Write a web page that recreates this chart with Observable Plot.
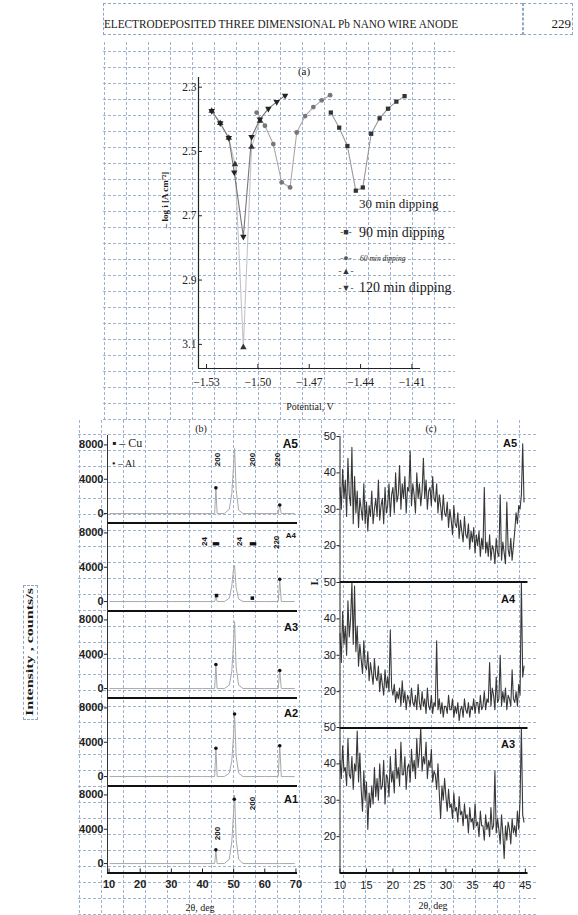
<!DOCTYPE html>
<html><head><meta charset="utf-8">
<script src="https://cdn.jsdelivr.net/npm/d3@7"></script>
<script src="https://cdn.jsdelivr.net/npm/@observablehq/plot@0.6"></script>
<style>
html,body{margin:0;padding:0;background:#fff;}
#page{position:relative;width:578px;height:915px;overflow:hidden;background:#fff;}
.box{position:absolute;border:1px dashed #8ea6c8;box-sizing:border-box;}
</style></head><body><div id="page"></div>
<script>
// ---------- Panel (a): Tafel-like curves, -log i vs potential ----------
const aXTicks = [-1.53, -1.50, -1.47, -1.44, -1.41];
const aYTicks = [2.3, 2.5, 2.7, 2.9, 3.1];
const pot30 = [-1.527, -1.522, -1.517, -1.5134, -1.5085, -1.5037, -1.4988];
const logi30 = [2.374, 2.412, 2.458, 2.54, 3.109, 2.486, 2.405];
const pot120 = [-1.527, -1.522, -1.517, -1.5138, -1.5085, -1.5037, -1.4988, -1.4939, -1.489, -1.4841];
const logi120 = [2.374, 2.412, 2.458, 2.565, 2.765, 2.455, 2.40, 2.367, 2.346, 2.326];
const pot60 = [-1.5007, -1.4959, -1.491, -1.4861, -1.4812, -1.4773, -1.4724, -1.4676, -1.4627, -1.4578];
const logi60 = [2.379, 2.42, 2.477, 2.596, 2.612, 2.441, 2.39, 2.362, 2.341, 2.325];
const pot90 = [-1.4574, -1.4525, -1.4477, -1.4428, -1.4387, -1.4338, -1.4289, -1.424, -1.4191, -1.4143];
const logi90 = [2.379, 2.426, 2.483, 2.622, 2.612, 2.445, 2.397, 2.367, 2.345, 2.328];

// ---------- Panel (b): XRD patterns A5..A1 ----------
const bSamples = ["A5", "A4", "A3", "A2", "A1"];
const bXTicks = [10, 20, 30, 40, 50, 60, 70];
const bYTicks = [0, 4000, 8000];
const xrdTheta = [10.3, 20, 30, 40, 43.9, 44.3, 44.7, 47, 48.6, 49.4, 49.9, 50.3, 50.8, 51.6, 53, 60, 64.3, 64.8, 65.3, 69.5];
const xrdA5 = [0, 0, 0, 0, 0, 3000, 0, 0, 500, 2300, 5200, 7600, 2800, 400, 0, 0, 0, 1000, 0, 0];
const xrdA4 = [0, 0, 0, 0, 0, 700, 0, 0, 400, 1800, 3600, 4200, 1600, 300, 0, 0, 0, 2500, 0, 0];
const xrdA3 = [0, 0, 0, 0, 0, 2800, 0, 0, 400, 2000, 5000, 7800, 2500, 400, 0, 0, 0, 2100, 0, 0];
const xrdA2 = [0, 0, 0, 0, 0, 3300, 0, 0, 400, 1800, 4500, 7200, 2400, 400, 0, 0, 0, 3600, 0, 0];
const xrdA1 = [0, 0, 0, 0, 0, 1500, 0, 0, 500, 2500, 5500, 8000, 2800, 500, 0, 0, 0, 0, 0, 0];
const dotThetaA5 = [44.3, 64.8], dotCountsA5 = [3000, 1000];
const dotThetaA4 = [64.8], dotCountsA4 = [2600];
const sqThetaA4 = [44.5, 56.0], sqCountsA4 = [700, 400];
const dotThetaA3 = [44.3, 64.8], dotCountsA3 = [2800, 2100];
const dotThetaA2 = [44.3, 64.8, 50.3], dotCountsA2 = [3300, 3600, 7300];
const dotThetaA1 = [44.3, 50.2], dotCountsA1 = [1600, 7500];
const hklA5 = ["200", "200", "220"], hklThetaA5 = [44.8, 56.0, 64.0], hklCountsA5 = [6300, 6300, 6300];
const hklA4 = ["24", "▮", "24", "▮", "220"], hklThetaA4 = [40.5, 44.2, 51.7, 56.0, 63.8], hklCountsA4 = [7000, 6700, 7000, 6700, 6900];
const hklA1 = ["200", "200"], hklThetaA1 = [56.0, 44.8], hklCountsA1 = [7000, 3500];

// ---------- Panel (c): low-angle XRD, A5, A4, A3 ----------
const cSamples = ["A5", "A4", "A3"];
const cXTicks = [10, 15, 20, 25, 30, 35, 40, 45];
const cYTicks = [20, 30, 40, 50];
const cTheta = d3.range(10, 45, 0.25);
const cA5 = [36,30,41,33, 38,28,44,34, 31,47,26,39, 29,35,25,33, 30,27,37,26, 32,24,31,28, 35,26,30,33, 28,38,27,31,
  33,26,36,29, 31,37,28,34, 36,29,40,32, 34,42,30,37, 33,39,29,36, 35,46,31,37, 34,29,40,33, 37,31,35,44, 33,38,30,35,
  36,31,39,33, 32,37,29,34, 31,27,34,29, 28,32,25,30, 27,23,31,26, 25,29,22,27, 24,21,28,23, 22,26,19,24, 21,25,18,23,
  20,24,17,22, 19,36,18,21, 17,23,16,20, 19,15,22,18, 17,34,16,21, 18,15,32,19, 17,22,16,20, 24,29,26,31, 30,34,48,32];
const cA4 = [36,28,42,33, 38,30,45,35, 40,50,33,49, 31,38,27,33, 29,25,34,27, 26,31,23,28, 25,22,29,24, 23,27,20,25,
  22,19,26,21, 24,20,37,21, 19,22,17,20, 18,21,16,23, 17,20,15,19, 18,16,21,17, 16,19,15,22, 17,15,20,16, 18,14,21,16,
  15,19,14,17, 16,34,15,18, 14,17,13,16, 16,14,19,15, 15,18,13,16, 14,17,12,15, 16,13,18,15, 14,17,13,16, 15,18,14,17,
  17,14,19,15, 16,20,15,18, 17,28,16,21, 19,15,24,17, 18,30,16,20, 17,21,15,19, 18,16,26,18, 17,20,16,22, 19,50,24,27];
const cA3 = [41,36,45,38, 39,34,47,37, 36,42,33,40, 38,49,35,43, 33,27,38,30, 35,22,32,28, 34,29,39,31, 36,30,40,33,
  34,41,29,37, 36,31,42,35, 38,32,44,36, 39,34,46,37, 37,42,33,39, 40,35,44,38, 41,36,47,39, 43,50,38,42, 40,46,36,41,
  39,44,35,38, 37,33,40,32, 25,34,30,36, 31,27,33,28, 29,25,32,27, 28,24,31,26, 27,23,29,25, 26,21,28,24, 25,22,29,23,
  24,20,27,23, 23,19,26,22, 24,20,28,22, 23,38,21,25, 22,18,26,21, 14,23,19,24, 22,18,25,21, 23,20,27,22, 30,50,26,24];

// ---------- helpers ----------
const page = document.getElementById("page");
function put(node, left, top) {
  node.style.position = "absolute"; node.style.left = left + "px"; node.style.top = top + "px";
  page.appendChild(node); return node;
}
const gridColor = "#8ea6c8";
function gridLayer(w, h, stepX, stepY) {
  return Plot.plot({
    width: w, height: h, margin: 0,
    x: {domain: [0, w], axis: null}, y: {domain: [0, h], axis: null},
    style: {background: "transparent"},
    marks: [
      Plot.gridX(d3.range(1, w, stepX), {stroke: gridColor, strokeOpacity: 0.85, strokeDasharray: "3,2"}),
      Plot.gridY(d3.range(1, h, stepY), {stroke: gridColor, strokeOpacity: 0.85, strokeDasharray: "3,2"})
    ]
  });
}
put(gridLayer(352, 378, 22, 16), 103, 42);
put(gridLayer(460, 495, 22, 16), 78, 420);

const triDown = {
  draw(ctx, size) {
    const y = -Math.sqrt(size / (Math.sqrt(3) * 3));
    ctx.moveTo(0, -y * 2);
    ctx.lineTo(-Math.sqrt(3) * y, y);
    ctx.lineTo(Math.sqrt(3) * y, y);
    ctx.closePath();
  }
};
const rows = (xs, ys) => xs.map((x, i) => ({x, y: ys[i]}));

// ---------- Panel (a) ----------
const aX = [-1.5347, -1.405], aY = [2.27, 3.175];
const aSeries = [
  {pot: pot30, logi: logi30, line: "#c4c4c4", fill: "#333", symbol: "triangle"},
  {pot: pot120, logi: logi120, line: "#777", fill: "#222", symbol: triDown},
  {pot: pot60, logi: logi60, line: "#aaa", fill: "#777", symbol: "circle"},
  {pot: pot90, logi: logi90, line: "#999", fill: "#333", symbol: "square"}
];
const plotA = Plot.plot({
  width: 290, height: 358, marginLeft: 58, marginRight: 10, marginTop: 17, marginBottom: 50,
  style: {background: "transparent", fontFamily: "Liberation Serif", fontSize: "11.5px", color: "#222", overflow: "visible"},
  x: {domain: aX, label: null},
  y: {domain: aY, reverse: true, label: null},
  marks: [
    Plot.axisX({ticks: aXTicks, tickSize: -4, tickPadding: 13, tickFormat: d3.format(".2f"), label: null}),
    Plot.axisY({ticks: aYTicks, tickSize: -4, tickPadding: 6, tickFormat: d3.format(".1f"), label: null}),
    Plot.ruleX([aX[0]], {stroke: "#222", strokeWidth: 1.2}),
    Plot.ruleY([aY[1]], {stroke: "#222", strokeWidth: 1.2}),
    ...aSeries.map(s => Plot.line(rows(s.pot, s.logi), {x: "x", y: "y", stroke: s.line, strokeWidth: 1.1})),
    ...aSeries.map(s => Plot.dot(rows(s.pot, s.logi), {x: "x", y: "y", symbol: s.symbol, r: 2.4, fill: s.fill, stroke: "none"}))
  ]
});
put(plotA, 140, 60);

// ---------- Panel (b) ----------
const bX = [9.5, 70.5], bY = [-1100, 9100];
const bData = {
  A5: {counts: xrdA5, dots: rows(dotThetaA5, dotCountsA5), sq: [], hkl: hklA5.map((t, i) => ({t, x: hklThetaA5[i], y: hklCountsA5[i]}))},
  A4: {counts: xrdA4, dots: rows(dotThetaA4, dotCountsA4), sq: rows(sqThetaA4, sqCountsA4), hkl: hklA4.map((t, i) => ({t, x: hklThetaA4[i], y: hklCountsA4[i]}))},
  A3: {counts: xrdA3, dots: rows(dotThetaA3, dotCountsA3), sq: [], hkl: []},
  A2: {counts: xrdA2, dots: rows(dotThetaA2, dotCountsA2), sq: [], hkl: []},
  A1: {counts: xrdA1, dots: rows(dotThetaA1, dotCountsA1), sq: [], hkl: hklA1.map((t, i) => ({t, x: hklThetaA1[i], y: hklCountsA1[i]}))}
};
const bTops = [435, 522.5, 610, 697.5, 785];
bSamples.forEach((name, k) => {
  const d = bData[name];
  const last = k === bSamples.length - 1;
  const p = Plot.plot({
    width: 242, height: 87.5 + (last ? 40 : 0), marginLeft: 47, marginRight: 5, marginTop: 0, marginBottom: last ? 40 : 0,
    style: {background: "transparent", fontFamily: "Liberation Sans", fontSize: "11px", fontWeight: "bold", color: "#222", overflow: "visible"},
    x: {domain: bX, label: null},
    y: {domain: bY, label: null},
    marks: [
      Plot.axisY({ticks: bYTicks, tickSize: 3, tickPadding: 1, tickFormat: d3.format("d"), label: null}),
      last ? Plot.axisX({ticks: bXTicks, tickSize: -4, tickPadding: 11, label: null}) : Plot.axisX({ticks: [], label: null}),
      Plot.line(rows(xrdTheta, d.counts), {x: "x", y: "y", stroke: "#a8a8a8", strokeWidth: 1}),
      Plot.dot(d.dots, {x: "x", y: "y", r: 1.8, fill: "#111"}),
      Plot.dot(d.sq, {x: "x", y: "y", r: 2, symbol: "square", fill: "#111"}),
      Plot.text(d.hkl, {x: "x", y: "y", text: "t", rotate: -90, fontSize: 8, fontWeight: "bold", fill: "#111"}),
      Plot.ruleX([bX[0]], {stroke: "#333"}),
      Plot.ruleY([bY[0]], {stroke: "#111", strokeWidth: 2})
    ]
  });
  put(p, 60, bTops[k]);
});

// ---------- Panel (c) ----------
const cX = [10, 45.5], cY = [10, 50];
const cData = {A5: cA5, A4: cA4, A3: cA3};
const cTops = [436, 581.5, 727];
cSamples.forEach((name, k) => {
  const last = k === cSamples.length - 1;
  const p = Plot.plot({
    width: 242.5, height: 145.5 + (last ? 40 : 0), marginLeft: 49.5, marginRight: 5, marginTop: 0, marginBottom: last ? 40 : 0,
    style: {background: "transparent", fontFamily: "Liberation Sans", fontSize: "11px", color: "#222", overflow: "visible"},
    x: {domain: cX, label: null},
    y: {domain: cY, label: null},
    marks: [
      Plot.axisY({ticks: cYTicks, tickSize: 3, tickPadding: 1, label: null}),
      last ? Plot.axisX({ticks: cXTicks, tickSize: -4, tickPadding: 12, label: null}) : Plot.axisX({ticks: [], label: null}),
      Plot.line(rows(cTheta, cData[name]), {x: "x", y: "y", stroke: "#222", strokeWidth: 1.1, strokeOpacity: 0.9}),
      Plot.ruleX([cX[0]], {stroke: "#222"}),
      Plot.ruleY([cY[0]], {stroke: "#111", strokeWidth: 2})
    ]
  });
  put(p, 290, cTops[k]);
});

// ---------- text annotations ----------
const ns = "http://www.w3.org/2000/svg";
const over = document.createElementNS(ns, "svg");
over.setAttribute("width", 578); over.setAttribute("height", 915);
over.style.pointerEvents = "none";
over.innerHTML = `
<g font-family="Liberation Serif" fill="#1a1a1a">
  <text x="104" y="28" font-size="12" textLength="354" lengthAdjust="spacingAndGlyphs">ELECTRODEPOSITED THREE DIMENSIONAL Pb NANO WIRE ANODE</text>
  <text x="571" y="28" font-size="13" text-anchor="end">229</text>
  <text x="304" y="75" font-size="11" text-anchor="middle">(a)</text>
  <text transform="translate(168,200) rotate(-90)" font-size="9" font-weight="bold" text-anchor="middle">– log i [A cm⁻²]</text>
  <text x="310" y="410" font-size="10" text-anchor="middle">Potential, V</text>
  <text x="359" y="208" font-size="13">30 min dipping</text>
  <text x="346" y="235" font-size="9" text-anchor="middle" fill="#333">-■-</text>
  <text x="359" y="237" font-size="14">90 min dipping</text>
  <text x="346" y="261" font-size="9" text-anchor="middle" fill="#555">-●-</text>
  <text x="360" y="261" font-size="7.5" font-style="italic">60 min dipping</text>
  <text x="346" y="274" font-size="9" text-anchor="middle" fill="#333">-▲-</text>
  <text x="346" y="291" font-size="9" text-anchor="middle" fill="#333">-▼-</text>
  <text x="359" y="292" font-size="14">120 min dipping</text>
  <text x="201" y="432" font-size="10" text-anchor="middle">(b)</text>
  <text x="112" y="447" font-size="12">▪ – Cu</text>
  <text x="112" y="467" font-size="10">• – Al</text>
  <text x="200" y="911" font-size="10" text-anchor="middle">2θ, deg</text>
  <text x="431" y="432" font-size="10" text-anchor="middle">(c)</text>
  <text x="433" y="909" font-size="10" text-anchor="middle">2θ, deg</text>
  <text transform="translate(33,652) rotate(-90)" font-size="11" font-weight="bold" text-anchor="middle" textLength="128" lengthAdjust="spacingAndGlyphs">Intensity , counts/s</text>
  <text transform="translate(318,582) rotate(-90)" font-size="11" font-weight="bold" text-anchor="middle">I.</text>
</g>
<g font-family="Liberation Sans" font-weight="bold" fill="#111" text-anchor="end">
  <text x="298" y="448" font-size="12">A5</text>
  <text x="296" y="538" font-size="8">A4</text>
  <text x="298" y="631" font-size="11">A3</text>
  <text x="298" y="717" font-size="11">A2</text>
  <text x="298" y="803" font-size="11">A1</text>
  <text x="517" y="447" font-size="11">A5</text>
  <text x="515" y="603" font-size="11">A4</text>
  <text x="515" y="748" font-size="11">A3</text>
</g>`;
put(over, 0, 0);

// dashed text-box outlines (page layout artefacts in the scan)
[[103, 3, 420, 32], [523, 3, 50, 32], [23, 585, 15, 135]].forEach(([l, t, w, h]) => {
  const b = document.createElement("div");
  b.className = "box"; b.style.width = w + "px"; b.style.height = h + "px";
  put(b, l, t);
});
</script></body></html>
